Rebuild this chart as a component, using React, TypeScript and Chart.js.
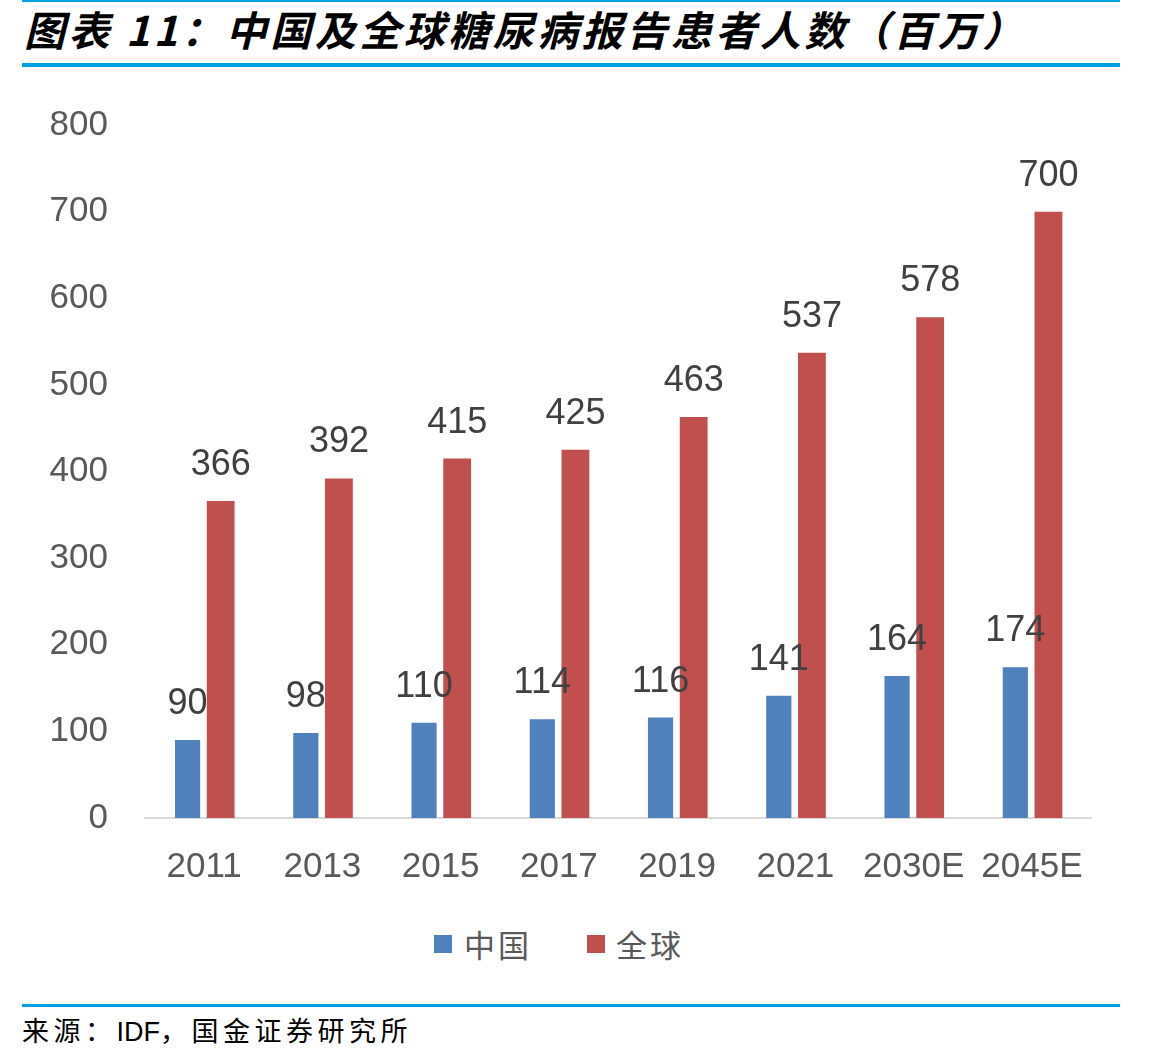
import React, { useEffect, useRef } from "react";
import { Chart, registerables } from "chart.js";

Chart.register(...registerables);

const categories = ["2011", "2013", "2015", "2017", "2019", "2021", "2030E", "2045E"];
const chinaValues = [90, 98, 110, 114, 116, 141, 164, 174];
const globalValues = [366, 392, 415, 425, 463, 537, 578, 700];
const yTicks = [0, 100, 200, 300, 400, 500, 600, 700, 800];

const BLUE = "#4F81BD";
const RED = "#C0504D";
const LINE_BLUE = "#00A0E9";

// Draws each bar's value just above its top
const valueLabels = {
  id: "valueLabels",
  afterDatasetsDraw(chart: any) {
    const ctx = chart.ctx;
    ctx.save();
    ctx.font = "36px 'Liberation Sans', Arial, sans-serif";
    ctx.fillStyle = "#404040";
    ctx.textAlign = "center";
    ctx.textBaseline = "alphabetic";
    chart.data.datasets.forEach((ds: any, i: number) => {
      const meta = chart.getDatasetMeta(i);
      meta.data.forEach((bar: any, j: number) => {
        ctx.fillText(String(ds.data[j]), bar.x, bar.y - 26);
      });
    });
    ctx.restore();
  },
};

function DiabetesChart() {
  const ref = useRef<HTMLCanvasElement>(null);
  useEffect(() => {
    if (!ref.current) return;
    const chart = new Chart(ref.current, {
      type: "bar",
      data: {
        labels: categories,
        datasets: [
          { label: "中国", data: chinaValues, backgroundColor: BLUE, barPercentage: 0.76, categoryPercentage: 0.56 },
          { label: "全球", data: globalValues, backgroundColor: RED, barPercentage: 0.84, categoryPercentage: 0.56 },
        ],
      },
      options: {
        animation: false,
        responsive: false,
        maintainAspectRatio: false,
        layout: { padding: { left: 0, right: 78, top: 0, bottom: 0 } },
        plugins: { legend: { display: false }, tooltip: { enabled: false }, title: { display: false } },
        scales: {
          x: {
            grid: { display: false, drawTicks: false },
            border: { display: true, color: "#D9D9D9", width: 2 },
            ticks: {
              color: "#595959",
              font: { family: "'Liberation Sans', Arial, sans-serif", size: 35 },
              padding: 28,
              maxRotation: 0,
              autoSkip: false,
            },
            afterFit: (s: any) => { s.height = 82; },
          },
          y: {
            min: 0,
            max: 800,
            afterBuildTicks: (s: any) => { s.ticks = yTicks.map((v) => ({ value: v })); },
            grid: { display: false, drawTicks: false },
            border: { display: false },
            ticks: {
              color: "#595959",
              font: { family: "'Liberation Sans', Arial, sans-serif", size: 35 },
              padding: 37,
            },
            afterFit: (s: any) => { s.width = 145; },
          },
        },
      },
      plugins: [valueLabels],
    });
    return () => chart.destroy();
  }, []);
  return (
    <canvas
      ref={ref}
      width={1169}
      height={833}
      style={{ position: "absolute", left: 0, top: 67, width: 1169, height: 833 }}
    />
  );
}

export default function App() {
  const cjk = "'Noto Sans CJK SC', sans-serif";
  return (
    <div style={{ position: "fixed", left: 0, top: 0, width: 1169, height: 1063, background: "#fff", overflow: "hidden" }}>
      <div style={{ position: "absolute", left: 22, top: 0, width: 1098, height: 2, background: LINE_BLUE }} />
      <div
        style={{
          position: "absolute",
          left: 24,
          top: 2,
          fontFamily: cjk,
          fontWeight: 700,
          fontStyle: "italic",
          fontSize: 41,
          lineHeight: "52px",
          color: "#000",
          whiteSpace: "nowrap",
          letterSpacing: 3.5,
        }}
      >
        图表 11：中国及全球糖尿病报告患者人数（百万）
      </div>
      <div style={{ position: "absolute", left: 22, top: 63, width: 1098, height: 4, background: LINE_BLUE }} />
      <DiabetesChart />
      <div style={{ position: "absolute", left: 434, top: 935, width: 18, height: 18, background: BLUE }} />
      <div style={{ position: "absolute", left: 464, top: 924, fontFamily: cjk, fontSize: 31, lineHeight: "40px", color: "#595959", letterSpacing: 3 }}>中国</div>
      <div style={{ position: "absolute", left: 587, top: 935, width: 18, height: 18, background: RED }} />
      <div style={{ position: "absolute", left: 616, top: 924, fontFamily: cjk, fontSize: 31, lineHeight: "40px", color: "#595959", letterSpacing: 3 }}>全球</div>
      <div style={{ position: "absolute", left: 22, top: 1004, width: 1098, height: 3, background: LINE_BLUE }} />
      <div style={{ position: "absolute", left: 22, top: 1012, fontFamily: cjk, fontSize: 27, lineHeight: "36px", color: "#000", whiteSpace: "nowrap", letterSpacing: 4.5 }}>
        来源：<span style={{ fontFamily: "'Liberation Sans', Arial, sans-serif", letterSpacing: 0 }}>IDF</span>，国金证券研究所
      </div>
    </div>
  );
}
